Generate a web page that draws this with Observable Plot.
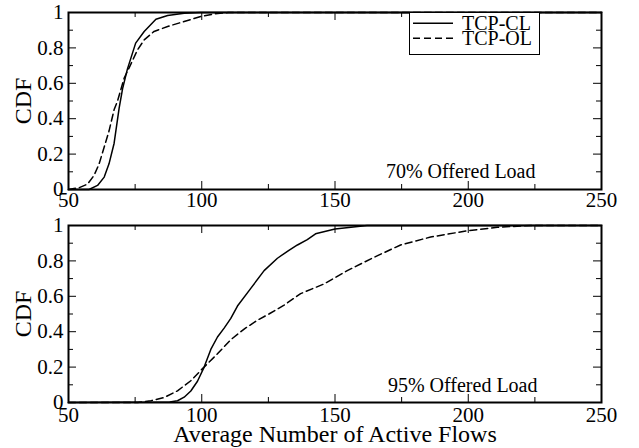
<!DOCTYPE html>
<html><head><meta charset="utf-8">
<script src="https://cdn.jsdelivr.net/npm/d3@7"></script>
<script src="https://cdn.jsdelivr.net/npm/@observablehq/plot@0.6"></script>
<style>
body{margin:0;background:#fff;}
#chart{position:relative;width:639px;height:448px;font-family:"Liberation Serif","Times New Roman",serif;}
#chart > .panel{position:absolute;left:0;}
#legend{position:absolute;left:409px;top:12px;}
</style></head><body><div id="chart"></div>
<script>
const seriesNames = ["TCP-CL", "TCP-OL"];
const panelLabels = ["70% Offered Load", "95% Offered Load"];
const xTitle = "Average Number of Active Flows";
const yTitle = "CDF";
const xTicks = [50, 100, 150, 200, 250];
const xMinorTicks = [75, 125, 175, 225];
const yTicks = [0, 0.2, 0.4, 0.6, 0.8, 1];
const yMinorTicks = [0.1, 0.3, 0.5, 0.7, 0.9];

// 70% offered load
const load70CL_x = [50, 57.7, 60.9, 63.4, 65.2, 67.1, 69, 70.3, 72.1, 75.2, 78.4, 82.8, 87.2, 93.4, 99.6, 250];
const load70CL_y = [0, 0, 0.023, 0.07, 0.145, 0.26, 0.46, 0.57, 0.68, 0.827, 0.893, 0.962, 0.983, 0.996, 1, 1];
const load70OL_x = [50, 54, 57.1, 59.6, 61.5, 63.4, 65.2, 67.1, 68.4, 70.9, 72.7, 75.9, 78.4, 82.1, 87.2, 93.4, 99.6, 104.6, 110, 250];
const load70OL_y = [0, 0.01, 0.03, 0.08, 0.145, 0.24, 0.33, 0.45, 0.5, 0.63, 0.686, 0.789, 0.845, 0.893, 0.921, 0.949, 0.977, 0.992, 1, 1];

// 95% offered load
const load95CL_x = [50, 88, 90.9, 93.4, 95.9, 98.4, 100.9, 103.4, 105.9, 108.4, 110.9, 113.4, 118.4, 123.4, 128.4, 132.7, 135.9, 139.6, 142.7, 150, 162, 250];
const load95CL_y = [0, 0.003, 0.01, 0.03, 0.065, 0.12, 0.2, 0.3, 0.37, 0.42, 0.475, 0.545, 0.645, 0.745, 0.815, 0.86, 0.89, 0.92, 0.953, 0.98, 1, 1];
const load95OL_x = [50, 76, 80.9, 85.9, 90.9, 95.9, 100.2, 105.9, 110.9, 115.9, 120.9, 125.2, 130.9, 137.1, 145.9, 154.6, 164.6, 174.6, 185.9, 199.6, 210.9, 223.4, 250];
const load95OL_y = [0, 0, 0.01, 0.028, 0.066, 0.123, 0.19, 0.275, 0.355, 0.415, 0.465, 0.5, 0.55, 0.615, 0.67, 0.745, 0.82, 0.89, 0.935, 0.97, 0.99, 1, 1];

const dashes = [null, "7,4"];
const toRows = (xs, ys) => xs.map((x, i) => ({x, y: ys[i]}));

const FONT = '"Liberation Serif","Times New Roman",serif';
const W = 639, ML = 68, MR = 38;
const FW = W - ML - MR;

function panel({top, height, marginTop, marginBottom, series, label, labelDx, labelDy, tickPad, withTitle}) {
  const FH = height - marginTop - marginBottom;
  const marks = [
    ...series.map((rows, i) => Plot.line(rows, {x: "x", y: "y", stroke: "black", strokeWidth: 1.5, strokeDasharray: dashes[i]})),
    // inward ticks: bottom, top
    Plot.tickX(xTicks, {x: d => d, insetTop: FH - 8, stroke: "black"}),
    Plot.tickX(xMinorTicks, {x: d => d, insetTop: FH - 5, stroke: "black"}),
    Plot.tickX(xTicks, {x: d => d, insetBottom: FH - 8, stroke: "black"}),
    Plot.tickX(xMinorTicks, {x: d => d, insetBottom: FH - 5, stroke: "black"}),
    // inward ticks: left, right
    Plot.tickY(yTicks, {y: d => d, insetRight: FW - 8, stroke: "black"}),
    Plot.tickY(yMinorTicks, {y: d => d, insetRight: FW - 5, stroke: "black"}),
    Plot.tickY(yTicks, {y: d => d, insetLeft: FW - 8, stroke: "black"}),
    Plot.tickY(yMinorTicks, {y: d => d, insetLeft: FW - 5, stroke: "black"}),
    Plot.frame({stroke: "black", strokeWidth: 2}),
    Plot.axisX(xTicks, {tickSize: 0, tickPadding: tickPad, fontSize: 21, label: null, tickFormat: d => String(d)}),
    Plot.axisY(yTicks, {tickSize: 0, tickPadding: 5, fontSize: 21, label: null, tickFormat: d => String(d)}),
    Plot.text([yTitle], {frameAnchor: "left", dx: -45, rotate: -90, textAnchor: "middle", lineAnchor: "middle", fontSize: 24, fill: "black"}),
    Plot.text([label], {frameAnchor: "bottom-right", dx: labelDx, dy: labelDy, textAnchor: "end", lineAnchor: "middle", fontSize: 20, fill: "black"})
  ];
  if (withTitle) {
    marks.push(Plot.text([xTitle], {frameAnchor: "bottom", dy: 32, textAnchor: "middle", lineAnchor: "middle", fontSize: 24, fill: "black"}));
  }
  const p = Plot.plot({
    width: W, height, marginLeft: ML, marginRight: MR, marginTop, marginBottom,
    x: {domain: [50, 250]},
    y: {domain: [0, 1]},
    style: {fontFamily: FONT, fontSize: "20px", color: "black", background: "white", overflow: "visible"},
    marks
  });
  const d = document.createElement("div");
  d.className = "panel";
  d.style.top = top + "px";
  d.appendChild(p);
  return d;
}

const chart = document.getElementById("chart");
chart.appendChild(panel({
  top: 0, height: 210, marginTop: 12, marginBottom: 21,
  series: [toRows(load70CL_x, load70CL_y), toRows(load70OL_x, load70OL_y)],
  label: panelLabels[0], labelDx: -66, labelDy: -18, tickPad: 3, withTitle: false
}));
chart.appendChild(panel({
  top: 212, height: 236, marginTop: 13, marginBottom: 46,
  series: [toRows(load95CL_x, load95CL_y), toRows(load95OL_x, load95OL_y)],
  label: panelLabels[1], labelDx: -64, labelDy: -17, tickPad: 5, withTitle: true
}));

// legend
const ns = "http://www.w3.org/2000/svg";
const lg = document.createElementNS(ns, "svg");
lg.setAttribute("id", "legend");
lg.setAttribute("width", 131);
lg.setAttribute("height", 43);
lg.innerHTML = `<rect x="0.5" y="0.5" width="130" height="42" fill="white" stroke="black" stroke-width="1"/>` +
  seriesNames.map((n, i) => {
    const y = 11.3 + i * 15;
    return `<line x1="4" x2="44" y1="${y}" y2="${y}" stroke="black" stroke-width="1.5" ${dashes[i] ? `stroke-dasharray="${dashes[i]}"` : ""}/>` +
      `<text x="53" y="${y + 6.8}" font-size="20" font-family='${FONT}' fill="black">${n}</text>`;
  }).join("");
chart.appendChild(lg);
</script>
</body></html>
